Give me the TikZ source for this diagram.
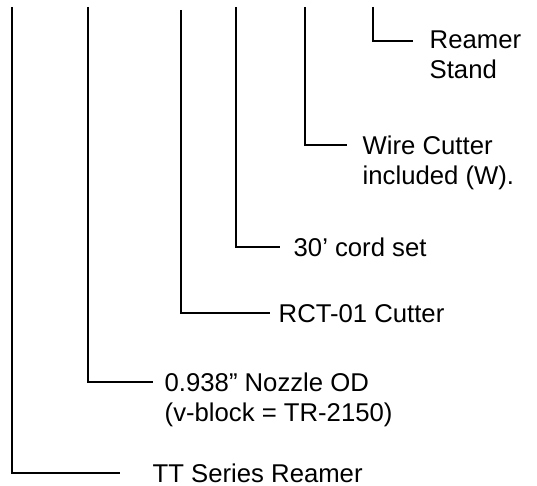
\documentclass[tikz,border=0pt]{standalone}
\usepackage{fontspec}
\setmainfont{Liberation Sans}
\usepackage{tikz}

\begin{document}
\begin{tikzpicture}[x=1pt, y=-1pt, line width=1.4pt,
  lbl/.style = {anchor=base west, align=left, inner sep=0pt, font=\fontsize{25.7}{30}\selectfont}]
\useasboundingbox (0,0) rectangle (537,486);

\coordinate (t1) at (12,7);
\coordinate (t2) at (88,7);
\coordinate (t3) at (181,10);
\coordinate (t4) at (236,7);
\coordinate (t5) at (305,7);
\coordinate (t6) at (373,7);

\coordinate (e1) at (120,473);
\coordinate (e2) at (153,382);
\coordinate (e3) at (270,313);
\coordinate (e4) at (280,247);
\coordinate (e5) at (347,145);
\coordinate (e6) at (413,41);

% two-line labels sit on their last baseline
\node[lbl] (1) at (152,482) {TT Series Reamer};
\node[lbl] (2) at (164,421) {0.938” Nozzle OD\\(v-block = TR-2150)};
\node[lbl] (3) at (278,322) {RCT-01 Cutter};
\node[lbl] (4) at (293,256) {30’ cord set};
\node[lbl] (5) at (362,185) {Wire Cutter\\included (W).};
\node[lbl] (6) at (429,79) {Reamer\\Stand};

\draw (t1) |- (e1);
\draw (t2) |- (e2);
\draw (t3) |- (e3);
\draw (t4) |- (e4);
\draw (t5) |- (e5);
\draw (t6) |- (e6);
\end{tikzpicture}
\end{document}
